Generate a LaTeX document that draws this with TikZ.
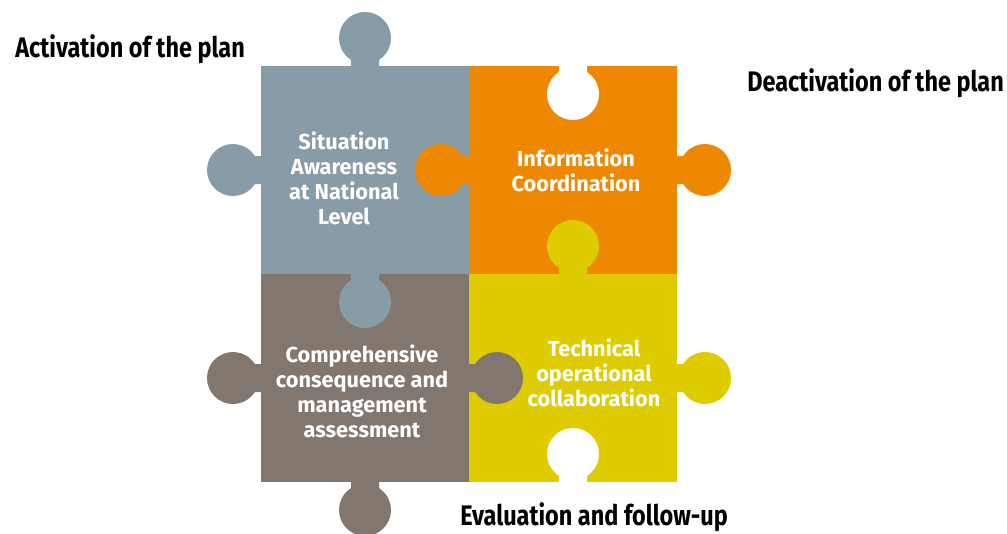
\documentclass[tikz,border=0pt]{standalone}
\usepackage{fontspec}
\setmainfont{Fira Sans}
\newfontfamily\narrowfont{Fira Sans}[FakeStretch=0.83]
\begin{document}
\begin{tikzpicture}[x=0.75pt,y=-0.75pt,
  piecetext/.style={text=white,align=center,inner sep=0pt,
    font=\bfseries\fontsize{16.3pt}{18.8pt}\selectfont},
  sidelabel/.style={text=black,inner sep=0pt,anchor=base west,
    font=\narrowfont\bfseries\fontsize{21.2pt}{24pt}\selectfont}]
\definecolor{slate}{HTML}{889CA8}
\definecolor{amber}{HTML}{ED8800}
\definecolor{taupe}{HTML}{82776E}
\definecolor{mustard}{HTML}{DECB00}
\useasboundingbox (0,0) rectangle (1007,533);
\fill[white] (0,0) rectangle (1007,533);

% the four square bodies
\fill[slate]   (261,66)  rectangle (469,274);
\fill[amber]   (469,66)  rectangle (677,274);
\fill[taupe]   (261,274) rectangle (469,482);
\fill[mustard] (469,274) rectangle (677,482);

% slate piece: knobs top, left and into the piece below
\fill[slate] (365,38) circle[radius=19.5pt] (351,38) rectangle (379,67);
\fill[slate] (233,170) circle[radius=19.5pt] (233,156) rectangle (262,184);
\fill[slate] (365,302) circle[radius=19.5pt] (351,273) rectangle (379,302);

% amber piece: knob into the slate piece, knob right, hole on top
\fill[amber] (441,170) circle[radius=19.5pt] (441,156) rectangle (470,184);
\fill[amber] (705,170) circle[radius=19.5pt] (676,156) rectangle (705,184);
\fill[white] (573,94) circle[radius=19.5pt] (559,60) rectangle (587,94);

% mustard piece: knob up into the amber piece, knob right, hole below
\fill[mustard] (573,246) circle[radius=19.5pt] (559,246) rectangle (587,275);
\fill[mustard] (705,378) circle[radius=19.5pt] (676,364) rectangle (705,392);
\fill[white] (573,454) circle[radius=19.5pt] (559,454) rectangle (587,490);

% taupe piece: knobs left, bottom and into the mustard piece
\fill[taupe] (233,378) circle[radius=19.5pt] (233,364) rectangle (262,392);
\fill[taupe] (365,510) circle[radius=19.5pt] (351,481) rectangle (379,510);
\fill[taupe] (497,378) circle[radius=19.5pt] (468,364) rectangle (497,392);

% texts on the pieces
\node[piecetext] (sa) at (344,178) {Situation\\Awareness\\at National\\Level};
\node[piecetext] (ic) at (576,170) {Information\\Coordination};
\node[piecetext] (cc) at (362,391) {Comprehensive\\consequence and\\management\\assessment};
\node[piecetext] (to) at (594,373) {Technical\\operational\\collaboration};

% labels around the puzzle
\node[sidelabel] (act) at (15,57.5) {Activation of the plan};
\node[sidelabel] (deact) at (747,91.5) {Deactivation of the plan};
\node[sidelabel] (eval) at (460,525) {Evaluation and follow-up};
\end{tikzpicture}
\end{document}
